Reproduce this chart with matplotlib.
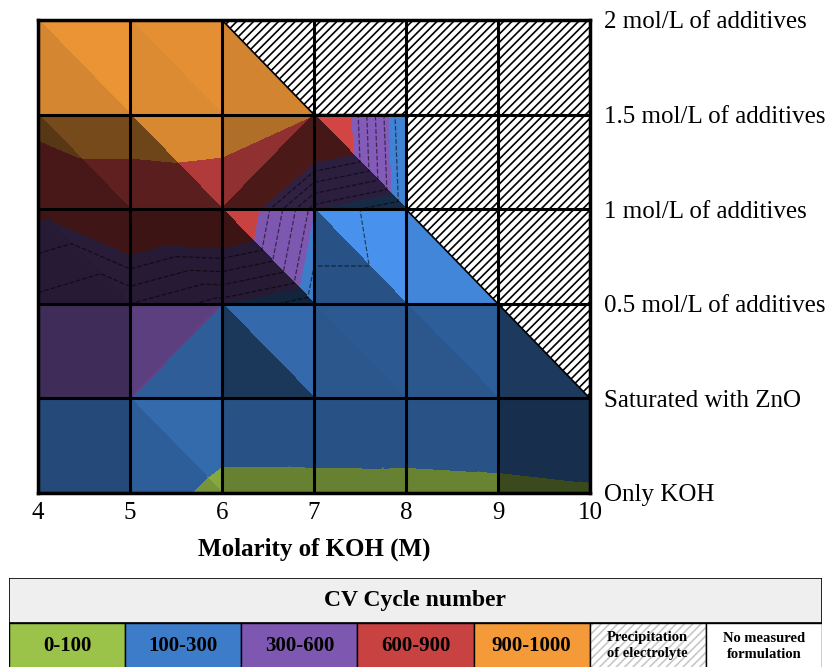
import numpy as np
import matplotlib.pyplot as plt
import matplotlib.tri as mtri
from matplotlib.colors import to_rgb
from matplotlib.patches import Polygon, Rectangle

plt.rcParams['font.family'] = ['Liberation Serif', 'DejaVu Serif']
plt.rcParams['hatch.linewidth'] = 1.2

koh = [4, 5, 6, 7, 8, 9, 10]
additive_labels = ['Only KOH', 'Saturated with ZnO', '0.5 mol/L of additives',
                   '1 mol/L of additives', '1.5 mol/L of additives', '2 mol/L of additives']

# CV cycle number at each node, rows = additive level (bottom to top), cols = KOH molarity
cycles = [
    [150, 180, 60, 60, 62, 70, 85],
    [300, 300, 200, 205, 200, 205, 210],
    [450, 400, 300, 200, 200, 200, 200],
    [620, 780, 800, 300, 180, 200, 200],
    [1000, 1000, 980, 900, 150, 200, 200],
    [950, 950, 950, 950, 950, 950, 950],
]

levels = [0, 100, 300, 600, 900, 1000]
band_labels = ['0-100', '100-300', '300-600', '600-900', '900-1000']
band_colors = ['#9bc34a', '#3d7cc9', '#7e57b0', '#c94242', '#f59a38']

# edge of the precipitation zone (KOH molarity, additive level index)
precip_koh = [6, 10, 10, 9, 8, 8, 7]
precip_level = [5, 5, 1, 2, 3, 4, 4]

# how each cell is split: 'b' = top-left to bottom-right, 'f' = bottom-left to top-right
diagonals = ['bbbbbb',
             'bfbbbb',
             'bbbbbb',
             'bbfbbb',
             'bbbbbb']

# facet lighting (<1 darker, >1 lighter) for the upper and the lower triangle of each cell
shade_upper = [[0.60, 0.86, 0.66, 0.66, 0.67, 0.38],
               [0.50, 0.72, 0.85, 0.72, 0.76, 0.47],
               [0.32, 0.30, 1.00, 1.18, 1.08, 1.00],
               [0.48, 0.88, 0.72, 1.05, 1.00, 1.00],
               [0.96, 0.93, 0.86, 1.00, 1.00, 1.00]]
shade_lower = [[0.60, 0.76, 0.66, 0.66, 0.67, 0.38],
               [0.50, 0.75, 0.45, 0.70, 0.70, 0.47],
               [0.30, 0.30, 0.30, 0.66, 1.08, 1.00],
               [0.36, 0.45, 0.38, 0.35, 1.00, 1.00],
               [0.87, 0.90, 0.86, 1.00, 1.00, 1.00]]


def shaded(col, s):
    return tuple(min(c * s, 1.0) for c in to_rgb(col))


fig = plt.figure(figsize=(8.36, 6.67), dpi=100)
ax = fig.add_axes([38 / 836, 1 - 493 / 667, 552 / 836, 473 / 667])

# triangulated surface, one facet at a time so each gets its own lighting
nx = len(koh)
xs, ys = np.meshgrid(np.array(koh, float), np.arange(len(additive_labels), dtype=float))
xs, ys, z = xs.ravel(), ys.ravel(), np.ravel(cycles).astype(float)
all_facets = []
for j, row in enumerate(diagonals):
    for i, d in enumerate(row):
        bl, br = j * nx + i, j * nx + i + 1
        tl, tr = bl + nx, br + nx
        if d == 'b':
            facets = [[tl, tr, br], [tl, bl, br]]
        else:
            facets = [[bl, tl, tr], [bl, br, tr]]
        all_facets += facets
        for t, s in zip(facets, [shade_upper[j][i], shade_lower[j][i]]):
            cs = ax.tricontourf(mtri.Triangulation(xs, ys, [t]), z, levels=levels,
                                colors=[shaded(c, s) for c in band_colors])
            cs.set_edgecolor('face')
            cs.set_linewidth(0.6)

# dashed iso-lines inside the 1 mol/L zone
surface = mtri.Triangulation(xs, ys, all_facets)
iso = ax.tricontour(surface, z, levels=[240, 330, 400, 470, 540], colors='black',
                    linewidths=0.9, linestyles='--', alpha=0.55, zorder=2)
iso.set_clip_path(Rectangle((4, 2), 4, 2, transform=ax.transData))

# precipitation of electrolyte
ax.add_patch(Polygon(np.column_stack([precip_koh, precip_level]), closed=True,
                     facecolor='white', edgecolor='black', hatch='////', lw=1.2, zorder=3))

for x in koh:
    ax.axvline(x, color='black', lw=2.2, zorder=4)
for y in range(len(additive_labels)):
    ax.axhline(y, color='black', lw=2.2, zorder=4)
for s in ax.spines.values():
    s.set_linewidth(2.5)
    s.set_zorder(5)

ax.set_xlim(koh[0], koh[-1])
ax.set_ylim(0, len(additive_labels) - 1)
ax.set_xticks(koh)
ax.set_yticks(range(len(additive_labels)))
ax.set_yticklabels(additive_labels)
ax.yaxis.tick_right()
ax.tick_params(axis='both', length=0, labelsize=18)
ax.tick_params(axis='x', pad=6.5)
ax.tick_params(axis='y', pad=10)
ax.set_xlabel('Molarity of KOH (M)', fontsize=18, fontweight='bold')
ax.xaxis.label.set_va('center')
ax.xaxis.set_label_coords(0.5, -0.118)

# colour key
lg = fig.add_axes([9 / 836, 0, 813 / 836, 89 / 667])
lg.set_xlim(0, 7)
lg.set_ylim(0, 89)
lg.axis('off')
lg.add_patch(Rectangle((0, 44), 7, 45, facecolor='#efefef', edgecolor='black', lw=1.2))
lg.text(3.5, 66.5, 'CV Cycle number', ha='center', va='center', fontsize=17, fontweight='bold')
for k, (lab, col) in enumerate(zip(band_labels, band_colors)):
    lg.add_patch(Rectangle((k, -10), 1, 54, facecolor=col, edgecolor='black', lw=1.0))
    lg.text(k + 0.5, 21, lab, ha='center', va='center', fontsize=15, fontweight='bold')
lg.add_patch(Rectangle((5, -10), 1, 54, facecolor='white', edgecolor='#c8c8c8',
                       hatch='////', lw=0))
lg.add_patch(Rectangle((5, -10), 1, 54, facecolor='none', edgecolor='black', lw=1.0))
lg.text(5.5, 21, 'Precipitation\nof electrolyte', ha='center', va='center',
        fontsize=10.5, fontweight='bold', linespacing=1.3)
lg.add_patch(Rectangle((6, -10), 1, 54, facecolor='white', edgecolor='black', lw=1.0))
lg.text(6.5, 21, 'No measured\nformulation', ha='center', va='center',
        fontsize=10.5, fontweight='bold', linespacing=1.3)

fig.savefig('out.png', dpi=100)
